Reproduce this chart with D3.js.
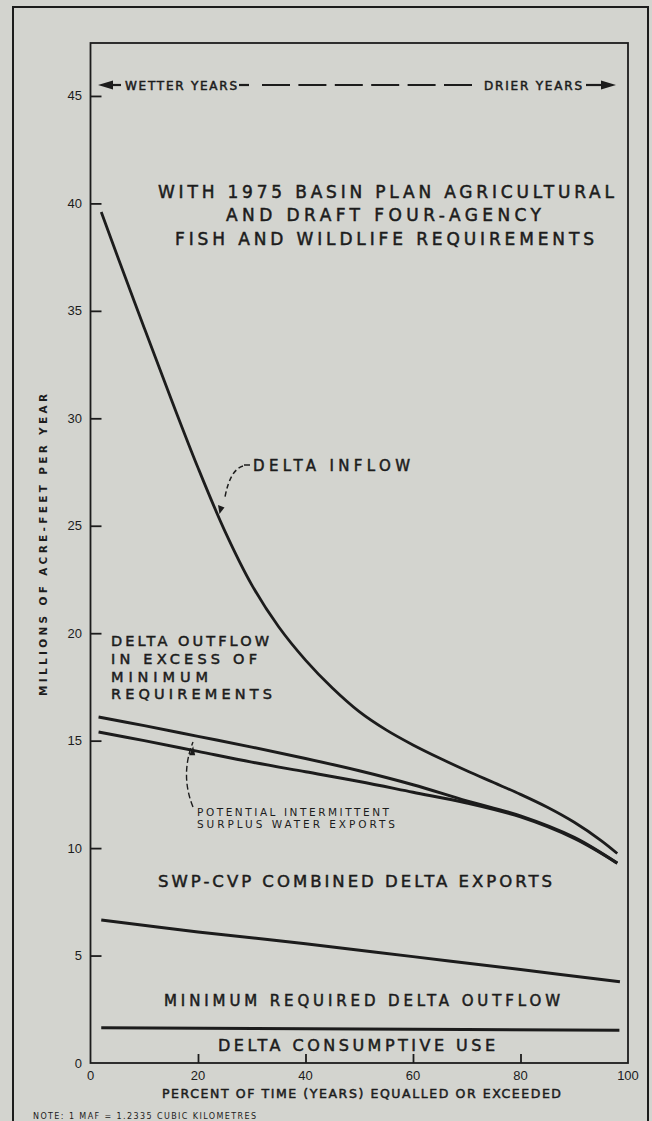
<!DOCTYPE html>
<html>
<head>
<meta charset="utf-8">
<script src="https://cdn.jsdelivr.net/npm/d3@7/dist/d3.min.js"></script>
<style>
  html, body { margin: 0; padding: 0; background: #d3d4cf; }
  svg { display: block; }
  text { font-family: "DejaVu Sans", sans-serif; fill: #1c1c1c; }
</style>
</head>
<body>
<script>
// ---------- DATA ----------
const xTicks = [0, 20, 40, 60, 80, 100];
const yTicks = [0, 5, 10, 15, 20, 25, 30, 35, 40, 45];

// Delta inflow (percent of time, MAF/yr)
const inflowP = [2, 5, 10, 15, 20, 25, 30, 35, 40, 45, 50, 55, 60, 65, 70, 75, 80, 85, 90, 95, 98];
const inflowV = [39.6, 37.55, 34.2, 30.9, 27.7, 24.75, 22.25, 20.3, 18.75, 17.45, 16.35, 15.5, 14.8, 14.18, 13.6, 13.05, 12.5, 11.9, 11.2, 10.35, 9.75];

// Delta outflow in excess of minimum requirements (upper boundary)
const outflowP = [1.5, 10, 20, 30, 40, 50, 60, 70, 80, 90, 98];
const outflowV = [16.1, 15.7, 15.2, 14.7, 14.17, 13.6, 12.95, 12.2, 11.5, 10.5, 9.3];

// Potential intermittent surplus water exports (lower boundary)
const surplusP = [1.5, 10, 20, 30, 40, 50, 60, 70, 80, 90, 98];
const surplusV = [15.4, 15.0, 14.5, 14.0, 13.55, 13.1, 12.6, 12.1, 11.45, 10.45, 9.3];

// Minimum required delta outflow (top of)
const minOutP = [2, 20, 40, 60, 80, 98.5];
const minOutV = [6.65, 6.1, 5.55, 4.95, 4.35, 3.78];

// Delta consumptive use
const consP = [2, 50, 98.4];
const consV = [1.64, 1.58, 1.52];

const titleLines = ["WITH 1975 BASIN PLAN AGRICULTURAL", "AND DRAFT FOUR-AGENCY", "FISH AND WILDLIFE REQUIREMENTS"];
const excessLines = ["DELTA OUTFLOW", "IN EXCESS OF", "MINIMUM", "REQUIREMENTS"];
const surplusLines = ["POTENTIAL INTERMITTENT", "SURPLUS WATER EXPORTS"];

// ---------- LAYOUT ----------
const W = 652, H = 1121;
const pLeft = 90.5, pRight = 628, pTop = 43, pBottom = 1063;
const ink = "#1c1c1c";

const svg = d3.select("body").append("svg").attr("width", W).attr("height", H);
svg.append("rect").attr("width", W).attr("height", H).attr("fill", "#d3d4cf");

// outer frame
svg.append("rect").attr("x", 13).attr("y", 7).attr("width", 635).attr("height", 1140)
  .attr("fill", "none").attr("stroke", ink).attr("stroke-width", 2);

const x = d3.scaleLinear().domain([0, 100]).range([pLeft, pRight]);
const y = d3.scaleLinear().domain([0, 45]).range([pBottom, pBottom - 45 * 21.49]);

// plot frame
svg.append("rect").attr("x", pLeft).attr("y", pTop).attr("width", pRight - pLeft).attr("height", pBottom - pTop)
  .attr("fill", "none").attr("stroke", ink).attr("stroke-width", 1.8);

// Y axis (ticks inward)
const yAxis = d3.axisRight(y).tickValues(yTicks).tickSize(11).tickFormat("");
const gy = svg.append("g").attr("transform", `translate(${pLeft},0)`).call(yAxis);
gy.select(".domain").remove();
gy.selectAll(".tick line").attr("stroke", ink).attr("stroke-width", 1.8)
  .filter(d => d === 0).remove();
svg.append("g").selectAll("text").data(yTicks).join("text")
  .attr("x", 82).attr("y", d => y(d) + 4.5)
  .attr("text-anchor", "end")
  .style("font-family", "'Liberation Sans Narrow', sans-serif").style("font-size", "13px")
  .text(d => d);

// X axis (ticks inward)
const xAxis = d3.axisTop(x).tickValues(xTicks).tickSize(9).tickFormat("");
const gx = svg.append("g").attr("transform", `translate(0,${pBottom})`).call(xAxis);
gx.select(".domain").remove();
gx.selectAll(".tick line").attr("stroke", ink).attr("stroke-width", 1.8)
  .filter(d => d === 0 || d === 100).remove();
svg.append("g").selectAll("text").data(xTicks).join("text")
  .attr("x", d => x(d)).attr("y", 1080)
  .attr("text-anchor", "middle")
  .style("font-family", "'Liberation Sans Narrow', sans-serif").style("font-size", "13px")
  .text(d => d);

function label(txt, x0, yb, len, size, extra) {
  const t = svg.append("text").attr("x", x0).attr("y", yb)
    .attr("textLength", len).attr("lengthAdjust", "spacing")
    .style("font-size", size + "px").text(txt);
  if (extra) extra(t);
  return t;
}
const heavy = t => t.attr("stroke", ink).attr("stroke-width", 0.5);

// axis titles
label("PERCENT OF TIME (YEARS)  EQUALLED OR EXCEEDED", 162, 1098, 399, 12.5, heavy);
svg.append("text").attr("transform", "translate(47,545) rotate(-90)")
  .attr("text-anchor", "middle")
  .attr("textLength", 302).attr("lengthAdjust", "spacing")
  .style("font-size", "10.5px").style("font-weight", "bold")
  .text("MILLIONS OF ACRE-FEET PER YEAR");

// note
label("NOTE:  1 MAF = 1.2335 CUBIC KILOMETRES", 33, 1119, 223, 8);

// ---------- CURVES ----------
const line = d3.line().x(d => x(d[0])).y(d => y(d[1])).curve(d3.curveCatmullRom.alpha(0.5));
function drawCurve(P, V, w) {
  svg.append("path").datum(P.map((p, i) => [p, V[i]]))
    .attr("d", line).attr("fill", "none").attr("stroke", ink)
    .attr("stroke-width", w).attr("stroke-linecap", "butt");
}
drawCurve(inflowP, inflowV, 2.8);
drawCurve(outflowP, outflowV, 3);
drawCurve(surplusP, surplusV, 3);
drawCurve(minOutP, minOutV, 3);
drawCurve(consP, consV, 3);

// ---------- HEADER: wetter / drier ----------
const hy = 85;
svg.append("path").attr("d", `M98,${hy} l15,-4.5 l0,9 z`).attr("fill", ink);
svg.append("line").attr("x1", 110).attr("x2", 121).attr("y1", hy).attr("y2", hy).attr("stroke", ink).attr("stroke-width", 2.2);
label("WETTER YEARS", 125, hy + 4.5, 112, 12, heavy);
svg.append("line").attr("x1", 239).attr("x2", 249).attr("y1", hy).attr("y2", hy).attr("stroke", ink).attr("stroke-width", 2.2);
svg.append("line").attr("x1", 262).attr("x2", 478).attr("y1", hy).attr("y2", hy)
  .attr("stroke", ink).attr("stroke-width", 2.2).attr("stroke-dasharray", "28,8.4");
label("DRIER YEARS", 484, hy + 4.5, 98, 12, heavy);
svg.append("line").attr("x1", 586).attr("x2", 604).attr("y1", hy).attr("y2", hy).attr("stroke", ink).attr("stroke-width", 2.2);
svg.append("path").attr("d", `M616,${hy} l-15,-4.5 l0,9 z`).attr("fill", ink);

// ---------- TITLE ----------
const titleX = [[158, 456], [226, 315], [175, 419]];
const titleY = [198, 221, 245];
titleLines.forEach((t, i) => label(t, titleX[i][0], titleY[i], titleX[i][1], 17, heavy));

// ---------- LABELS ----------
// Delta inflow annotation
svg.append("line").attr("x1", 244).attr("x2", 250).attr("y1", 465).attr("y2", 465).attr("stroke", ink).attr("stroke-width", 1.5);
label("DELTA  INFLOW", 253, 471, 157, 15, heavy);
svg.append("path").attr("d", `M243,466 Q230,470 225,497`).attr("fill", "none")
  .attr("stroke", ink).attr("stroke-width", 1.5).attr("stroke-dasharray", "5,3");
svg.append("path").attr("d", `M${x(24)},${y(25.55)} l-1.5,-9 l6.5,2.5 z`).attr("fill", ink);

// Delta outflow in excess
const exEnds = [269, 257, 208, 272];
const exY = [646, 664, 682, 699];
excessLines.forEach((t, i) => label(t, 111, exY[i], exEnds[i] - 111, 14.5, heavy));

// Surplus annotation
const sEnds = [389, 395];
surplusLines.forEach((t, i) => label(t, 197, [816, 828][i], sEnds[i] - 197, 10.5));
svg.append("path").attr("d", `M193,807 Q180,775 193,742`).attr("fill", "none")
  .attr("stroke", ink).attr("stroke-width", 1.4).attr("stroke-dasharray", "6,3");
svg.append("path").attr("d", `M${x(19.1)},${y(14.55) - 4} l-4,9 l6,0 z`).attr("fill", ink);

// Region labels
label("SWP-CVP COMBINED DELTA EXPORTS", 158, 887, 394, 16.5, heavy);
label("MINIMUM  REQUIRED  DELTA  OUTFLOW", 164, 1006, 396, 15, heavy);
label("DELTA  CONSUMPTIVE  USE", 218, 1050.5, 277, 16, heavy);
</script>
</body>
</html>
